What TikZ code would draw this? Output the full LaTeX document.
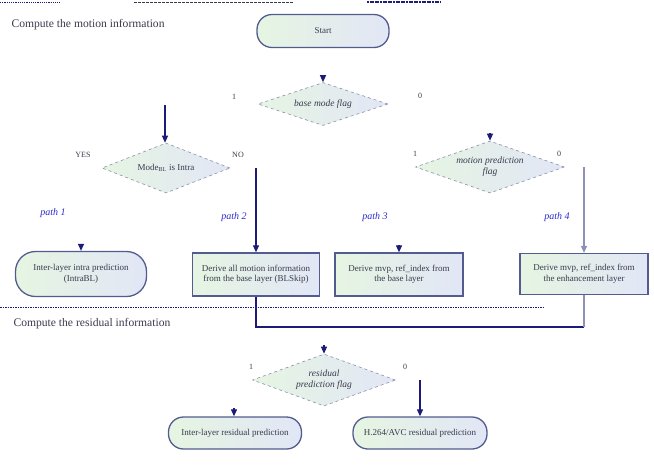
\documentclass[tikz,border=0pt]{standalone}
\usepackage{fontspec}
\setmainfont{Liberation Serif}
\usetikzlibrary{shapes.geometric,arrows.meta}
\definecolor{navy}{HTML}{1C1C78}
\definecolor{boxline}{HTML}{535C8E}
\definecolor{dline}{HTML}{8A90A8}
\definecolor{fillA}{HTML}{E6F5E2}
\definecolor{fillB}{HTML}{E2E6F6}
\definecolor{txt}{HTML}{3A3A4E}
\definecolor{pathblue}{HTML}{2B2BCC}
\definecolor{grayline}{HTML}{9090B4}
\tikzset{
  nodetext/.style={font=\fontsize{9}{10.5}\selectfont, text=txt, align=center},
  pill/.style={nodetext, draw=boxline, line width=1.3pt, rounded corners=15pt,
    left color=fillA, right color=fillB, inner sep=0pt},
  rbox/.style={nodetext, draw=boxline, line width=1.3pt,
    left color=fillA, right color=fillB, inner sep=0pt},
  dmd/.style={nodetext, font=\itshape\fontsize{9.5}{11}\selectfont, diamond, draw=dline, dashed,
    line width=0.6pt, left color=fillA, right color=fillB, inner sep=0pt, aspect=3},
  arr/.style={draw=navy, line width=1.1pt, -{Triangle[length=7pt,width=6pt]}},
  plain/.style={draw=navy, line width=1.1pt},
  lbl/.style={font=\fontsize{8}{9}\selectfont, text=txt},
  pathlbl/.style={font=\itshape\fontsize{10}{12}\selectfont, text=pathblue},
  heading/.style={font=\fontsize{11.6}{13}\selectfont, text=txt, anchor=west},
}
\begin{document}
\begin{tikzpicture}[x=1pt,y=-1pt]
\useasboundingbox (0,0) rectangle (654,472);
% top fragments
\draw[navy, line width=1pt, dash pattern=on 1.2pt off 1pt] (0,2) -- (60,2);
\draw[txt, line width=0.6pt, dash pattern=on 2.5pt off 1.5pt] (134,2) -- (293,2);
\draw[navy, line width=2pt, dash pattern=on 2pt off 0.6pt] (367,2) -- (440,2);

\node[heading] (h1) at (8,25) {Compute the motion information};
\node[heading] (h2) at (10,324) {Compute the residual information};

\node[pill, minimum width=132pt, minimum height=33pt] (start) at (323,31) {Start};
\node[dmd, minimum width=130pt, minimum height=43pt] (bmf) at (323,104) {base mode flag};
\node[dmd, minimum width=128pt, minimum height=50pt, font=\fontsize{9}{10.5}\selectfont] (mode) at (166,168) {Mode$_{\mathrm{BL}}$ is Intra};
\node[dmd, minimum width=149pt, minimum height=52pt] (mpf) at (490,167) {motion prediction\\flag};

\node[pill, minimum width=131pt, minimum height=45pt, rounded corners=20pt] (p1) at (81,274) {Inter-layer intra prediction\\(IntraBL)};
\node[rbox, minimum width=127pt, minimum height=43pt] (p2) at (256,274.5) {Derive all motion information\\from the base layer (BLSkip)};
\node[rbox, minimum width=128pt, minimum height=43pt] (p3) at (399,274.5) {Derive mvp, ref\_index from\\the base layer};
\node[rbox, minimum width=128pt, minimum height=41pt] (p4) at (584,274) {Derive mvp, ref\_index from\\the enhancement layer};

\node[dmd, minimum width=143pt, minimum height=52pt] (rpf) at (324,380) {residual\\prediction flag};
\node[pill, minimum width=133pt, minimum height=32pt] (b1) at (235,433) {Inter-layer residual prediction};
\node[pill, minimum width=134pt, minimum height=32pt] (b2) at (420,433) {H.264/AVC residual prediction};

% labels
\node[lbl] (l1) at (234,97) {1};
\node[lbl] (l0) at (420,96) {0};
\node[lbl] (lyes) at (83,155) {YES};
\node[lbl] (lno) at (238,155) {NO};
\node[lbl] (m1) at (415,154) {1};
\node[lbl] (m0) at (559,154) {0};
\node[lbl] (r1) at (251,367) {1};
\node[lbl] (r0) at (405,367) {0};
\node[pathlbl] (pl1) at (53,213) {path 1};
\node[pathlbl] (pl2) at (234,217) {path 2};
\node[pathlbl] (pl3) at (375,217) {path 3};
\node[pathlbl] (pl4) at (557,217) {path 4};

% connectors
\coordinate (c1) at (323,76);
\coordinate (c2) at (165,105);
\coordinate (c3) at (490,133);
\coordinate (c4) at (256,168);
\coordinate (c5) at (584,167);
\coordinate (c6) at (81,244);
\coordinate (c7) at (399,245);
\coordinate (c8) at (324,345);
\coordinate (c9) at (234,408);
\coordinate (c10) at (420,380);
\coordinate (j1) at (256,327);
\coordinate (j2) at (584,327);

\draw[arr] (c1) -- (bmf.north);
\draw[arr] (c2) -- (mode.north -| c2);
\draw[arr] (c3) -- (mpf.north);
\draw[arr] (c4) -- (p2.north);
\draw[arr, draw=grayline] (c5) -- (p4.north);
\draw[arr] (c6) -- (p1.north);
\draw[arr] (c7) -- (p3.north);
\draw[arr] (c8) -- (rpf.north);
\draw[arr] (c9) -- (b1.north -| c9);
\draw[arr] (c10) -- (b2.north);
\draw[plain] (p2.south) -- (j1) -- (j2);
\draw[plain, draw=grayline] (j2) -- (p4.south);

% separator
\draw[navy, line width=1pt, dash pattern=on 1.5pt off 1pt] (0,307) -- (544,307);
\end{tikzpicture}
\end{document}
